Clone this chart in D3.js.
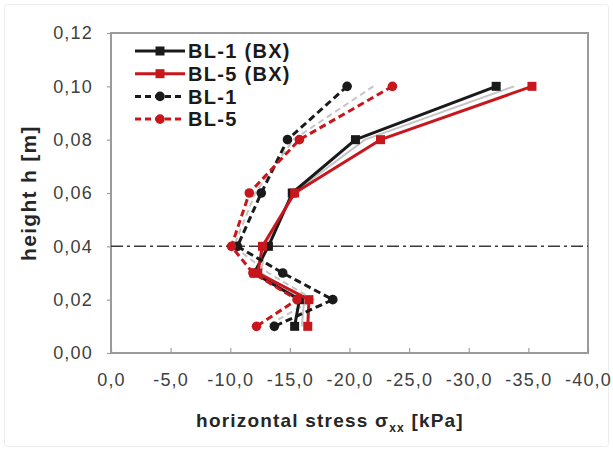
<!DOCTYPE html>
<html>
<head>
<meta charset="utf-8">
<script src="https://cdn.jsdelivr.net/npm/d3@7/dist/d3.min.js"></script>
<style>
  html, body { margin: 0; padding: 0; background: #fff; }
  svg { display: block; }
  text { font-family: "Liberation Sans", Arial, sans-serif; }
</style>
</head>
<body>
<svg id="chart" width="613" height="451"></svg>
<script>
// Measurement heights [m]
const heights = [0.10, 0.08, 0.06, 0.04, 0.03, 0.02, 0.01];

// Horizontal stress sigma_xx [kPa] for each profile
const bl1BX = [-32.3, -20.5, -15.2, -13.2, -12.0, -15.8, -15.4];
const bl5BX = [-35.3, -22.6, -15.4, -12.7, -12.3, -16.6, -16.5];
const bl1   = [-19.8, -14.8, -12.6, -10.6, -14.4, -18.6, -13.7];
const bl5   = [-23.6, -15.8, -11.6, -10.1, -11.9, -15.6, -12.2];
// unlabelled reference profiles (light grey)
const refBX = [-33.8, -21.3, -15.3, -12.9, -12.6, -16.2, -16.0];
const refD  = [-22.0, -15.3, -12.1, -10.3, -13.2, -17.0, -13.0];

const xTicks = [0, -5, -10, -15, -20, -25, -30, -35, -40];
const yTicks = [0, 0.02, 0.04, 0.06, 0.08, 0.10, 0.12];
const markLevel = 0.04;

const seriesNames = ["BL-1 (BX)", "BL-5 (BX)", "BL-1", "BL-5"];

const fmtComma = (d, p) => d.toFixed(p).replace(".", ",");

const svg = d3.select("#chart");

// faint outer frame
svg.append("rect")
  .attr("x", 4.5).attr("y", 4.5).attr("width", 604).attr("height", 442)
  .attr("rx", 3)
  .attr("fill", "none").attr("stroke", "#ececec").attr("stroke-width", 1);

const plot = { left: 111, right: 588, top: 33, bottom: 353 };

const x = d3.scaleLinear().domain([0, -40]).range([plot.left, plot.right]);
const y = d3.scaleLinear().domain([0, 0.12]).range([plot.bottom, plot.top]);

// axes
const xAxis = d3.axisBottom(x).tickValues(xTicks).tickSize(-5).tickPadding(20)
  .tickFormat(d => fmtComma(d === 0 ? 0 : d, 1));
const yAxis = d3.axisLeft(y).tickValues(yTicks).tickSize(4).tickPadding(14)
  .tickFormat(d => fmtComma(d, 2));

const gx = svg.append("g").attr("transform", `translate(0,${plot.bottom})`).call(xAxis);
const gy = svg.append("g").attr("transform", `translate(${plot.left},0)`).call(yAxis);
[gx, gy].forEach(g => {
  g.select(".domain").remove();
  g.selectAll(".tick line").attr("stroke", "#a0a0a0").attr("stroke-width", 1.2);
  g.selectAll(".tick text").attr("fill", "#404040")
    .style("font-size", "18px").style("letter-spacing", "1.2px");
});

// plot frame
svg.append("rect")
  .attr("x", plot.left).attr("y", plot.top)
  .attr("width", plot.right - plot.left).attr("height", plot.bottom - plot.top)
  .attr("fill", "none").attr("stroke", "#9a9a9a").attr("stroke-width", 2);

// axis titles
svg.append("text")
  .attr("x", 330).attr("y", 427).attr("text-anchor", "middle")
  .attr("fill", "#262626").style("font-size", "19px").style("font-weight", "bold")
  .style("letter-spacing", "1.2px")
  .call(t => {
    t.append("tspan").text("horizontal stress σ");
    t.append("tspan").attr("dy", 5).style("font-size", "12px").text("xx");
    t.append("tspan").attr("dy", -5).text(" [kPa]");
  });

svg.append("text")
  .attr("transform", "translate(36,193) rotate(-90)")
  .attr("text-anchor", "middle")
  .attr("fill", "#262626").style("font-size", "21px").style("font-weight", "bold")
  .style("letter-spacing", "1.3px")
  .text("height h [m]");

// dash-dot reference line
svg.append("line")
  .attr("x1", plot.left).attr("x2", plot.right)
  .attr("y1", y(markLevel)).attr("y2", y(markLevel))
  .attr("stroke", "#3a3a3a").attr("stroke-width", 1.5)
  .attr("stroke-dasharray", "12,4,3,4");

const line = d3.line().x(d => x(d[0])).y(d => y(d[1]));
const pts = vals => vals.map((v, i) => [v, heights[i]]);

const series = [
  { vals: refBX, color: "#c4c4c4", dash: null, marker: null, width: 2 },
  { vals: refD,  color: "#c4c4c4", dash: "6,4", marker: null, width: 2 },
  { vals: bl1BX, color: "#1a1a1a", dash: null, marker: "square", width: 3 },
  { vals: bl5BX, color: "#c8161d", dash: null, marker: "square", width: 3 },
  { vals: bl1,   color: "#1a1a1a", dash: "7,4", marker: "circle", width: 3 },
  { vals: bl5,   color: "#c8161d", dash: "7,4", marker: "circle", width: 3 }
];

function drawMarker(g, type, cx, cy, color) {
  if (type === "square") {
    g.append("rect").attr("x", cx - 4.5).attr("y", cy - 4.5)
      .attr("width", 9).attr("height", 9).attr("fill", color);
  } else if (type === "circle") {
    g.append("circle").attr("cx", cx).attr("cy", cy).attr("r", 4.8).attr("fill", color);
  }
}

series.forEach(s => {
  const g = svg.append("g");
  g.append("path").datum(pts(s.vals)).attr("d", line)
    .attr("fill", "none").attr("stroke", s.color).attr("stroke-width", s.width)
    .attr("stroke-linejoin", "round")
    .attr("stroke-dasharray", s.dash);
  if (s.marker) pts(s.vals).forEach(p => drawMarker(g, s.marker, x(p[0]), y(p[1]), s.color));
});

// legend
const legendItems = [
  { name: seriesNames[0], color: "#1a1a1a", dash: null, marker: "square" },
  { name: seriesNames[1], color: "#c8161d", dash: null, marker: "square" },
  { name: seriesNames[2], color: "#1a1a1a", dash: "6,4", marker: "circle" },
  { name: seriesNames[3], color: "#c8161d", dash: "6,4", marker: "circle" }
];
const lg = svg.append("g").attr("transform", "translate(135,51)");
legendItems.forEach((it, i) => {
  const row = lg.append("g").attr("transform", `translate(0,${i * 22.7})`);
  row.append("line").attr("x1", 0).attr("x2", 50).attr("y1", 0).attr("y2", 0)
    .attr("stroke", it.color).attr("stroke-width", 3).attr("stroke-dasharray", it.dash);
  drawMarker(row, it.marker, 25, 0, it.color);
  row.append("text").attr("x", 53).attr("y", 0).attr("dy", "0.36em")
    .attr("fill", "#1a1a1a").style("font-size", "20px").style("font-weight", "bold")
    .style("letter-spacing", "1.3px")
    .text(it.name);
});
</script>
</body>
</html>
